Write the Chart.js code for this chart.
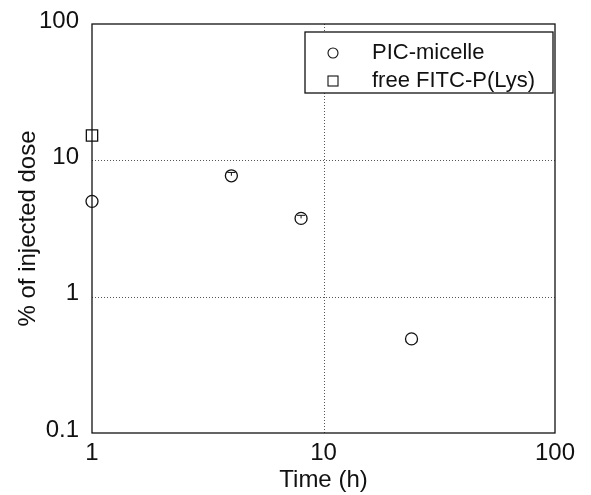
<!DOCTYPE html>
<html>
<head>
<meta charset="utf-8">
<script src="https://cdn.jsdelivr.net/npm/chart.js@4/dist/chart.umd.min.js"></script>
<style>
  html, body { margin: 0; padding: 0; background: #fff; }
  #wrap { width: 591px; height: 495px; }
</style>
</head>
<body>
<div id="wrap"><canvas id="c" width="591" height="495"></canvas></div>
<script>
// ---- data ----
const seriesNames = ['PIC-micelle', 'free FITC-P(Lys)'];
const micelleTime = [1, 4, 8, 24];
const micelleDose = [5.0, 7.7, 3.75, 0.49];
const micelleErrUp = [0, 0.45, 0.2, 0];
const freeTime = [1];
const freeDose = [15.2];
const xTickValues = [1, 10, 100];
const yTickValues = [0.1, 1, 10, 100];
const xGridValues = [10];
const yGridValues = [1, 10];
const xTitle = 'Time (h)';
const yTitle = '% of injected dose';

const FONT = 'Liberation Sans, Arial, sans-serif';

const errBars = {
  id: 'errBars',
  afterDatasetsDraw(chart) {
    const ctx = chart.ctx, xs = chart.scales.x, ys = chart.scales.y;
    ctx.save();
    ctx.strokeStyle = '#111';
    ctx.lineWidth = 1;
    micelleTime.forEach((t, i) => {
      const e = micelleErrUp[i];
      if (!e) return;
      const px = xs.getPixelForValue(t);
      const py = ys.getPixelForValue(micelleDose[i]);
      const pt = ys.getPixelForValue(micelleDose[i] + e);
      ctx.beginPath();
      ctx.moveTo(px, py); ctx.lineTo(px, pt);
      ctx.moveTo(px - 4, pt); ctx.lineTo(px + 4, pt);
      ctx.stroke();
    });
    ctx.restore();
  }
};

const frame = {
  id: 'frame',
  beforeDatasetsDraw(chart) {
    const { ctx, chartArea: a } = chart;
    const xs = chart.scales.x, ys = chart.scales.y;
    ctx.save();
    ctx.strokeStyle = '#555';
    ctx.lineWidth = 1;
    ctx.setLineDash([1, 2]);
    xGridValues.forEach(v => {
      const px = Math.round(xs.getPixelForValue(v)) + 0.5;
      ctx.beginPath(); ctx.moveTo(px, a.top); ctx.lineTo(px, a.bottom); ctx.stroke();
    });
    yGridValues.forEach(v => {
      const py = Math.round(ys.getPixelForValue(v)) + 0.5;
      ctx.beginPath(); ctx.moveTo(a.left, py); ctx.lineTo(a.right, py); ctx.stroke();
    });
    ctx.setLineDash([]);
    ctx.strokeStyle = '#111';
    ctx.lineWidth = 1.3;
    ctx.strokeRect(a.left, a.top, a.right - a.left, a.bottom - a.top);
    ctx.restore();
  }
};

const boxLegend = {
  id: 'boxLegend',
  afterDraw(chart) {
    const { ctx, chartArea: a } = chart;
    const right = a.right - 2, top = a.top + 8;
    const w = 248, h = 61;
    const left = right - w;
    ctx.save();
    ctx.fillStyle = '#fff';
    ctx.fillRect(left, top, w, h);
    ctx.strokeStyle = '#111';
    ctx.lineWidth = 1.3;
    ctx.strokeRect(left, top, w, h);
    ctx.font = '22px ' + FONT;
    ctx.fillStyle = '#111';
    ctx.textBaseline = 'middle';
    ctx.textAlign = 'left';
    ctx.lineWidth = 1.1;
    const mx = left + 28;
    const y1 = top + 21, y2 = top + 49;
    ctx.beginPath();
    ctx.arc(mx, y1, 5, 0, Math.PI * 2);
    ctx.stroke();
    ctx.fillText(chart.data.datasets[0].label, left + 67, y1);
    ctx.strokeRect(mx - 5, y2 - 5, 10, 10);
    ctx.fillText(chart.data.datasets[1].label, left + 67, y2);
    ctx.restore();
  }
};

const hiddenGrid = { display: true, drawTicks: false, drawOnChartArea: false, color: 'rgba(0,0,0,0)' };

new Chart(document.getElementById('c'), {
  type: 'scatter',
  data: {
    datasets: [
      {
        label: seriesNames[0],
        data: micelleTime.map((t, i) => ({ x: t, y: micelleDose[i] })),
        pointStyle: 'circle',
        pointRadius: 6,
        pointBorderWidth: 1.3,
        borderColor: '#111',
        backgroundColor: 'rgba(255,255,255,0)',
        clip: false
      },
      {
        label: seriesNames[1],
        data: freeTime.map((t, i) => ({ x: t, y: freeDose[i] })),
        pointStyle: 'rect',
        pointRadius: 8,
        pointBorderWidth: 1.3,
        borderColor: '#111',
        backgroundColor: 'rgba(255,255,255,0)',
        clip: false
      }
    ]
  },
  options: {
    responsive: false,
    animation: false,
    layout: { padding: { left: 0, right: 36, top: 24, bottom: 0 } },
    plugins: { legend: { display: false }, tooltip: { enabled: false } },
    scales: {
      x: {
        type: 'logarithmic',
        min: 1, max: 100,
        afterBuildTicks(s) { s.ticks = xTickValues.map(v => ({ value: v })); },
        afterFit(s) { s.height = 62; s.paddingLeft = 0; s.paddingRight = 0; },
        border: { display: false },
        grid: hiddenGrid,
        ticks: {
          color: '#111', padding: 6, maxRotation: 0, autoSkip: false,
          font: { family: FONT, size: 24 },
          callback: (v) => String(v)
        },
        title: { display: true, text: xTitle, color: '#111', font: { family: FONT, size: 24 }, padding: { top: 0, bottom: 0 } }
      },
      y: {
        type: 'logarithmic',
        min: 0.1, max: 100,
        afterBuildTicks(s) { s.ticks = yTickValues.map(v => ({ value: v })); },
        afterFit(s) { s.width = 92; s.paddingTop = 0; s.paddingBottom = 0; },
        border: { display: false },
        grid: hiddenGrid,
        ticks: {
          color: '#111', padding: 13, autoSkip: false, labelOffset: -3,
          font: { family: FONT, size: 24 },
          callback: (v) => String(v)
        },
        title: { display: true, text: yTitle, color: '#111', font: { family: FONT, size: 24 }, padding: { top: 14, bottom: 14 } }
      }
    }
  },
  plugins: [frame, errBars, boxLegend]
});
</script>
</body>
</html>
